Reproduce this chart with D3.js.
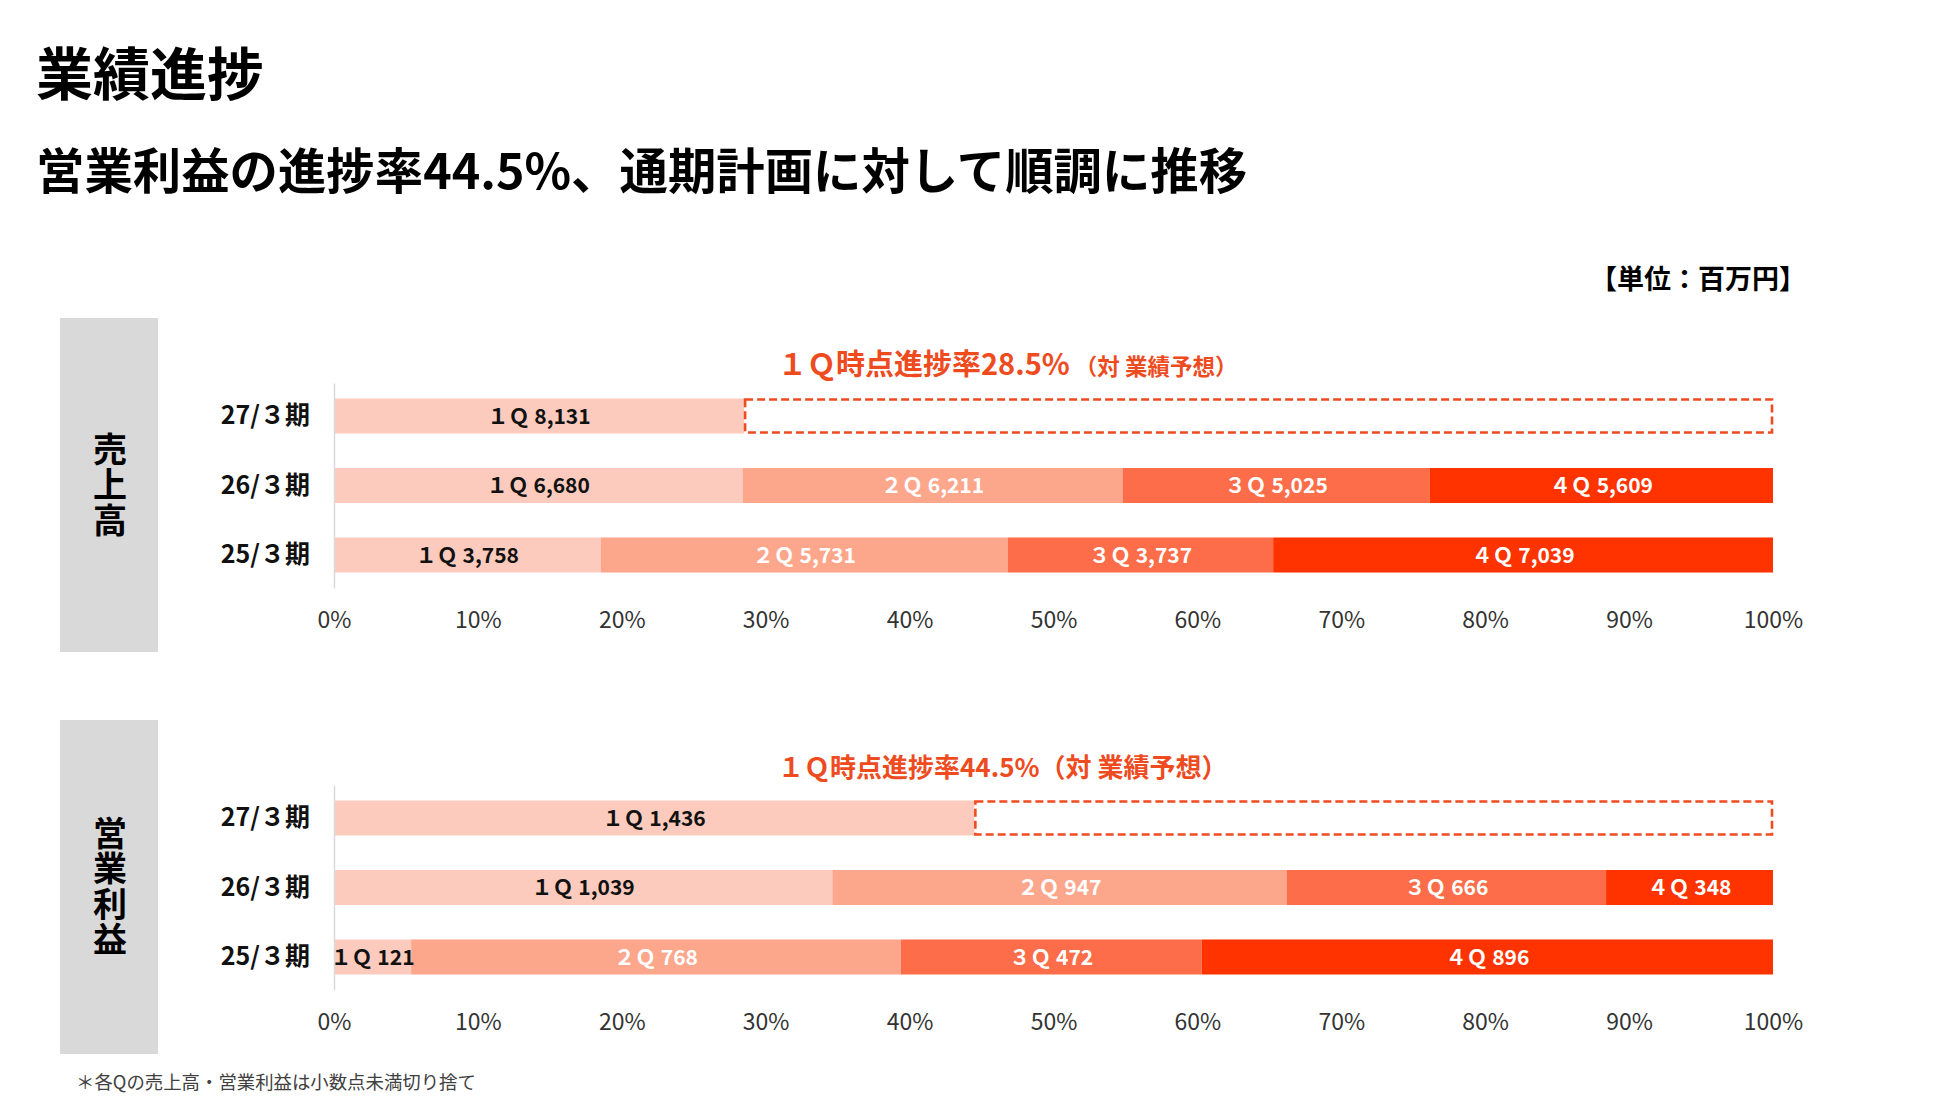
<!DOCTYPE html>
<html>
<head>
<meta charset="utf-8">
<script src="https://cdn.jsdelivr.net/npm/d3@7/dist/d3.min.js"></script>
<style>
  html, body { margin: 0; padding: 0; background: #fff; }
  svg { display: block; font-family: "Noto Sans CJK JP", "Noto Sans", sans-serif; }
</style>
</head>
<body>
<svg id="chart" width="1950" height="1102"></svg>
<script>
// ---- data ----
const quarters = ["１Ｑ", "２Ｑ", "３Ｑ", "４Ｑ"];
const periods = ["27/３期", "26/３期", "25/３期"];
const salesValues = [[8131], [6680, 6211, 5025, 5609], [3758, 5731, 3737, 7039]];
const profitValues = [[1436], [1039, 947, 666, 348], [121, 768, 472, 896]];
const progressRates = [28.5, 44.5];      // 1Q progress vs full-year forecast (%)
const panelNames = ["売上高", "営業利益"];
const tickValues = [0, 10, 20, 30, 40, 50, 60, 70, 80, 90, 100];
const quarterColors = ["#fccbbd", "#fca68c", "#fd6d4a", "#ff3300"];
const labelColors = ["#111111", "#ffffff", "#ffffff", "#ffffff"];

const svg = d3.select("#chart");
const fmt = d3.format(",");

// titles
svg.append("text").attr("x", 36).attr("y", 95)
  .attr("font-size", 57).attr("font-weight", 700).attr("fill", "#000")
  .text("業績進捗");
svg.append("text").attr("x", 36).attr("y", 189)
  .attr("font-size", 48.4).attr("font-weight", 700).attr("fill", "#000")
  .text("営業利益の進捗率44.5%、通期計画に対して順調に推移");
svg.append("text").attr("x", 1806).attr("y", 289)
  .attr("text-anchor", "end")
  .attr("font-size", 27).attr("font-weight", 700).attr("fill", "#000")
  .text("【単位：百万円】");

const x = d3.scaleLinear().domain([0, 100]).range([334, 1773]);

const panels = [
  { values: salesValues, rate: progressRates[0], name: panelNames[0], dy: 0,
    mainSize: 29, subSize: 22.5, sep: " " },
  { values: profitValues, rate: progressRates[1], name: panelNames[1], dy: 402,
    mainSize: 26, subSize: 26, sep: "" }
];

panels.forEach(p => {
  const g = svg.append("g").attr("transform", `translate(0,${p.dy})`);

  // grey side box with vertical name
  g.append("rect").attr("x", 60).attr("y", 318).attr("width", 98).attr("height", 334)
    .attr("fill", "#d9d9d9");
  g.append("text")
    .attr("x", 110).attr("y", 485)
    .attr("writing-mode", "vertical-rl")
    .style("writing-mode", "vertical-rl")
    .attr("text-anchor", "middle")
    .attr("letter-spacing", 1.5)
    .attr("font-size", 34).attr("font-weight", 700).attr("fill", "#000")
    .text(p.name);

  const y = d3.scaleBand().domain(periods).range([383, 588])
    .paddingInner(0.496).paddingOuter(0.223);

  // build stacked rows
  const rows = periods.map((per, i) => {
    const vals = p.values[i];
    const total = d3.sum(vals);
    let acc = 0;
    return vals.map((v, q) => {
      const share = vals.length === 1 ? p.rate : v / total * 100;
      const s = { period: per, q, value: v, x0: acc, x1: acc + share };
      acc += share;
      return s;
    });
  });
  const segs = rows.flat();

  g.selectAll("rect.seg").data(segs).join("rect")
    .attr("class", "seg")
    .attr("x", d => x(d.x0))
    .attr("width", d => x(d.x1) - x(d.x0))
    .attr("y", d => y(d.period))
    .attr("height", y.bandwidth())
    .attr("fill", d => quarterColors[d.q]);

  g.selectAll("text.seglabel").data(segs).join("text")
    .attr("class", "seglabel")
    .attr("x", d => (x(d.x0) + x(d.x1)) / 2)
    .attr("y", d => y(d.period) + y.bandwidth() / 2)
    .attr("dy", "0.36em")
    .attr("text-anchor", "middle")
    .attr("font-size", 21).attr("font-weight", 700)
    .attr("fill", d => labelColors[d.q])
    .text(d => quarters[d.q] + " " + fmt(d.value));

  // dashed remainder box for current year
  g.append("rect")
    .attr("x", x(p.rate) + 1)
    .attr("y", y(periods[0]) + 1)
    .attr("width", x(100) - x(p.rate) - 2)
    .attr("height", y.bandwidth() - 2)
    .attr("fill", "none")
    .attr("stroke", "#ee4b1f")
    .attr("stroke-width", 2.6)
    .attr("stroke-dasharray", "8 4");

  // left axis (category labels + vertical line)
  const ya = g.append("g").attr("transform", `translate(${x(0)},0)`)
    .call(d3.axisLeft(y).tickSize(0).tickSizeOuter(0).tickPadding(24));
  ya.select(".domain").attr("stroke", "#d9d9d9").attr("stroke-width", 1.5);
  ya.selectAll("text").attr("font-size", 25).attr("font-weight", 700)
    .attr("fill", "#111").attr("font-family", '"Noto Sans CJK JP", sans-serif');

  // bottom axis (percent ticks)
  const xa = g.append("g").attr("transform", `translate(0,588)`)
    .call(d3.axisBottom(x).tickValues(tickValues).tickFormat(d => d + "%")
      .tickSize(0).tickPadding(24));
  xa.select(".domain").remove();
  xa.selectAll("text").attr("font-size", 23).attr("font-weight", 400)
    .attr("fill", "#333").attr("font-family", '"Noto Sans CJK JP", sans-serif');

  // annotation
  const ann = g.append("text").attr("x", 778).attr("y", 375)
    .attr("fill", "#ee4b1f").attr("font-weight", 700);
  ann.append("tspan").attr("font-size", p.mainSize)
    .text("１Ｑ時点進捗率" + p.rate + "%");
  ann.append("tspan").attr("font-size", p.subSize)
    .text(p.sep + "（対 業績予想）");
});

// footnote
svg.append("text").attr("x", 76).attr("y", 1089)
  .attr("font-size", 18.4).attr("fill", "#404040")
  .text("＊各Qの売上高・営業利益は小数点未満切り捨て");
</script>
</body>
</html>
